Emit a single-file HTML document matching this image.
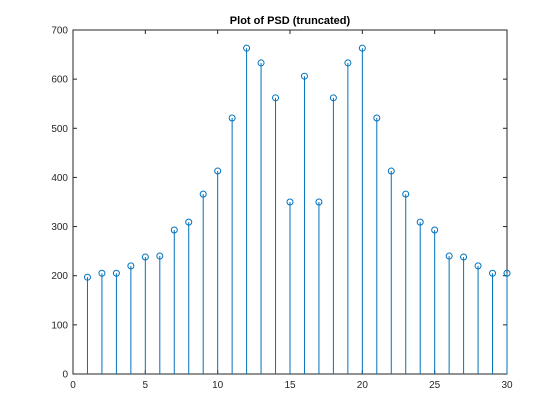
<!DOCTYPE html>
<html><head><meta charset="utf-8"><style>
html,body{margin:0;padding:0;background:#fff;}
svg{display:block;font-family:"Liberation Sans",sans-serif;}
</style></head><body>
<svg id="chart" width="560" height="420">
<rect x="0" y="0" width="560" height="420" fill="#fff"/>
<rect x="73" y="30" width="434" height="344" fill="#fff" stroke="#262626" stroke-width="1"/>
<text x="290" y="24" text-anchor="middle" font-size="11" font-weight="bold" fill="#000">Plot of PSD (truncated)</text>
<g id="axes"></g>
<g id="stems"></g>
</svg>
<script>
const xs = [1,2,3,4,5,6,7,8,9,10,11,12,13,14,15,16,17,18,19,20,21,22,23,24,25,26,27,28,29,30];
const psd = [197,205,205,220,238,240,293,309,366,413,521,663,633,562,350,606,350,562,633,663,521,413,366,309,293,240,238,220,205,205];
const xTicks = [0,5,10,15,20,25,30];
const yTicks = [0,100,200,300,400,500,600,700];
const L=73,R=507,T=30,B=374;
const sx=v=>L+(v-0)/(30-0)*(R-L);
const sy=v=>B-(v-0)/(700-0)*(B-T);
const NS="http://www.w3.org/2000/svg";
const ax=document.getElementById('axes'), st=document.getElementById('stems');
function mk(tag,attrs,parent){const e=document.createElementNS(NS,tag);for(const k in attrs)e.setAttribute(k,attrs[k]);parent.appendChild(e);return e;}
xTicks.forEach(v=>{
  const x=sx(v);
  const t1=mk('line',{x1:x,x2:x,y1:B,y2:B-4,stroke:'#262626'},ax);
  
  
  const t2=mk('line',{x1:x,x2:x,y1:T,y2:T+4,stroke:'#262626'},ax);
  
  
  const l=mk('text',{x:x,y:B+14,'text-anchor':'middle','font-size':10,fill:'#262626'},ax);
  l.textContent=v;
  
  
});
yTicks.forEach(v=>{
  const y=sy(v);
  const t1=mk('line',{x1:L,x2:L+4,y1:y,y2:y,stroke:'#262626'},ax);
  
  
  const t2=mk('line',{x1:R,x2:R-4,y1:y,y2:y,stroke:'#262626'},ax);
  
  
  const l=mk('text',{x:L-5,y:y+3.5,'text-anchor':'end','font-size':10,fill:'#262626'},ax);
  l.textContent=v;
  
  
});
xs.forEach((xv,i)=>{
  const x=sx(xv), y=sy(psd[i]);
  const s=mk('line',{x1:x,x2:x,y1:sy(0),y2:y,stroke:'#0072bd','stroke-width':1},st);
  
  
  const c=mk('circle',{cx:x,cy:y,r:3,fill:'none',stroke:'#0072bd','stroke-width':1},st);
  
  
});
</script>
</body></html>
